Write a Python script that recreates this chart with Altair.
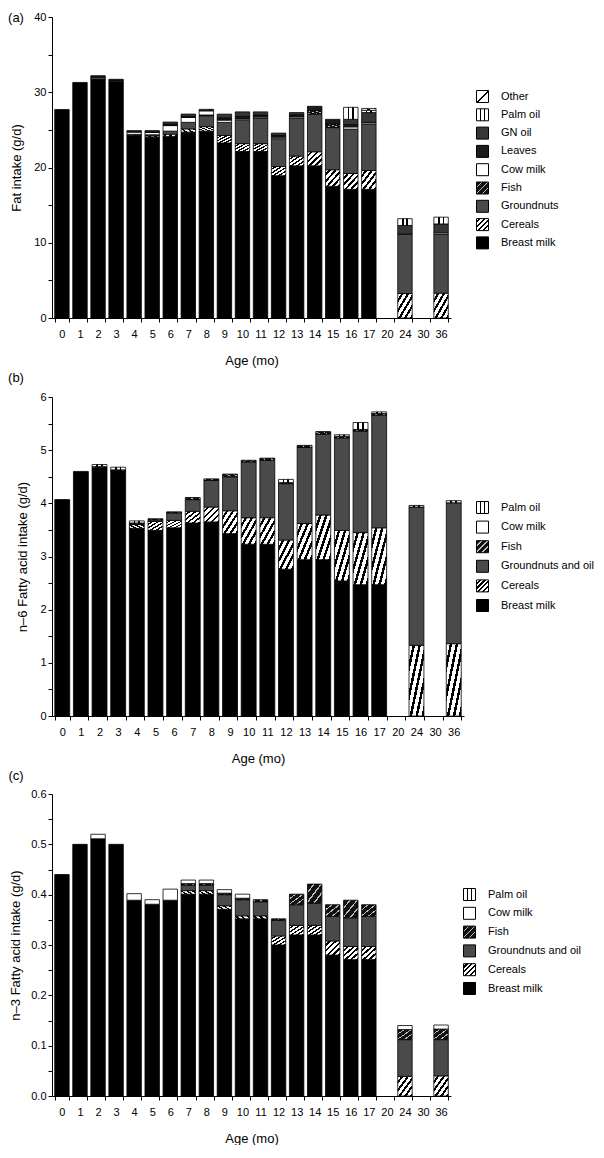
import altair as alt
import pandas as pd

AGES = ["0", "1", "2", "3", "4", "5", "6", "7", "8", "9", "10", "11", "12", "13",
        "14", "15", "16", "17", "20", "24", "30", "36"]

# ---- panel (a): fat intake (g/d), stacked bottom -> top
A_SERIES = ["Breast milk", "Cereals", "Groundnuts", "Fish", "Cow milk", "Leaves",
            "GN oil", "Palm oil", "Other"]
A_BREAST_MILK = [27.7, 31.3, 31.75, 31.45, 24.3, 24.0, 24.13, 24.7, 24.83, 23.26, 22.13,
                 22.13, 18.91, 20.22, 20.22, 17.5, 17.1, 17.1, 0, 0, 0, 0]
A_CEREALS = [0, 0, 0, 0, 0.1, 0.2, 0.3, 0.43, 0.6, 1.0, 1.04, 1.04, 1.22, 1.3, 1.87, 2.2,
             2.1, 2.5, 0, 3.25, 0, 3.3]
A_GROUNDNUTS = [0, 0, 0, 0, 0, 0.15, 0.4, 0.87, 1.45, 1.74, 3.18, 3.4, 3.7, 5.05, 5.0, 5.6,
                5.9, 6.2, 0, 7.9, 0, 7.8]
A_FISH = [0, 0, 0, 0, 0, 0, 0, 0, 0.1, 0, 0, 0, 0, 0, 0.5, 0.5, 0, 0, 0, 0, 0, 0]
A_COW_MILK = [0, 0, 0.15, 0.12, 0.3, 0.3, 0.74, 0.65, 0.55, 0.3, 0.17, 0.15, 0.2, 0.17, 0,
              0, 0.3, 0.2, 0, 0, 0, 0.2]
A_LEAVES = [0, 0, 0.3, 0.15, 0.2, 0.25, 0.2, 0.15, 0, 0.3, 0.27, 0.25, 0.24, 0.26, 0.54,
            0.6, 0.3, 0, 0, 0, 0, 0]
A_GN_OIL = [0, 0, 0, 0, 0, 0, 0.27, 0.3, 0.1, 0.49, 0.6, 0.42, 0.3, 0.3, 0, 0, 0.7, 1.3,
            0, 1.15, 0, 1.2]
A_PALM_OIL = [0, 0, 0, 0, 0, 0, 0, 0, 0, 0, 0, 0, 0, 0, 0, 0, 1.6, 0.3, 0, 0.9, 0, 0.9]
A_OTHER = [0, 0, 0, 0, 0, 0, 0, 0, 0.1, 0, 0, 0, 0, 0, 0, 0, 0, 0.25, 0, 0, 0, 0]

# ---- panels (b) and (c): n-6 and n-3 fatty acid intake (g/d)
BC_SERIES = ["Breast milk", "Cereals", "Groundnuts and oil", "Fish", "Cow milk", "Palm oil"]
B_BREAST_MILK = [4.07, 4.60, 4.67, 4.61, 3.53, 3.49, 3.54, 3.63, 3.65, 3.43, 3.23, 3.23,
                 2.76, 2.94, 2.94, 2.54, 2.47, 2.47, 0, 0, 0, 0]
B_CEREALS = [0, 0, 0, 0, 0.07, 0.17, 0.14, 0.22, 0.28, 0.43, 0.5, 0.5, 0.55, 0.68, 0.84,
             0.95, 0.98, 1.07, 0, 1.33, 0, 1.36]
B_GROUNDNUTS_OIL = [0, 0, 0, 0, 0.01, 0.03, 0.14, 0.22, 0.5, 0.64, 1.05, 1.08, 1.06, 1.43,
                    1.52, 1.74, 1.91, 2.12, 0, 2.6, 0, 2.65]
B_FISH = [0, 0, 0.02, 0.02, 0.02, 0.02, 0.02, 0.04, 0.03, 0.05, 0.03, 0.04, 0.02, 0.04,
          0.05, 0.03, 0.03, 0.03, 0, 0, 0, 0]
B_COW_MILK = [0] * 22
B_PALM_OIL = [0, 0, 0.04, 0.05, 0.04, 0, 0, 0, 0, 0, 0, 0, 0.06, 0, 0, 0.03, 0.13, 0.03,
              0, 0.03, 0, 0.04]

C_BREAST_MILK = [0.44, 0.50, 0.511, 0.50, 0.389, 0.381, 0.389, 0.401, 0.401, 0.371, 0.352,
                 0.352, 0.30, 0.32, 0.32, 0.28, 0.271, 0.271, 0, 0, 0, 0]
C_CEREALS = [0, 0, 0, 0, 0, 0, 0, 0.007, 0.007, 0.007, 0.006, 0.006, 0.018, 0.019, 0.019,
             0.028, 0.026, 0.026, 0, 0.039, 0, 0.04]
C_GROUNDNUTS_OIL = [0, 0, 0, 0, 0, 0, 0, 0.011, 0.011, 0.022, 0.032, 0.028, 0.031, 0.041,
                    0.044, 0.049, 0.057, 0.06, 0, 0.073, 0, 0.072]
C_FISH = [0, 0, 0, 0, 0, 0, 0, 0.003, 0.003, 0.003, 0.003, 0.004, 0.003, 0.021, 0.038,
          0.023, 0.035, 0.023, 0, 0.02, 0, 0.021]
C_COW_MILK = [0, 0, 0.009, 0, 0.013, 0.009, 0.022, 0.007, 0.007, 0.007, 0.008, 0, 0, 0, 0,
              0, 0, 0, 0, 0.008, 0, 0.008]
C_PALM_OIL = [0] * 22

FONT = "Liberation Sans"


def long_df(names, arrays):
    rows = []
    for idx, (name, arr) in enumerate(zip(names, arrays)):
        for age, v in zip(AGES, arr):
            rows.append({"age": age, "series": name, "idx": idx, "value": v})
    return pd.DataFrame(rows)


def grad(stops, x2=1, y2=1):
    s = ",".join("{offset:%.4f,color:'%s'}" % (o, c) for o, c in stops)
    return alt.ExprRef(expr="{gradient:'linear',x1:0,y1:0,x2:%s,y2:%s,stops:[%s]}" % (x2, y2, s))


def stripes(n, bg, fg, frac, x2=1, y2=1):
    stops = []
    for i in range(n):
        a = i / n
        b = a + (1 - frac) / n
        c = (i + 1) / n
        stops += [(a, bg), (b, bg), (b, fg), (c, fg)]
    return grad(stops, x2, y2)


HATCH_CEREALS = stripes(5, "#ffffff", "#000000", 0.42)
HATCH_FISH = stripes(4, "#111111", "#bdbdbd", 0.22)
HATCH_OTHER = grad([(0, "#ffffff"), (0.46, "#ffffff"), (0.46, "#000000"), (0.56, "#000000"),
                    (0.56, "#ffffff"), (1, "#ffffff")])
HATCH_PALM = grad([(0, "#ffffff"), (0.28, "#ffffff"), (0.28, "#000000"), (0.40, "#000000"),
                   (0.40, "#ffffff"), (0.60, "#ffffff"), (0.60, "#000000"), (0.72, "#000000"),
                   (0.72, "#ffffff"), (1, "#ffffff")], x2=1, y2=0)

FILL_A = {"Breast milk": "#000000", "Cereals": HATCH_CEREALS, "Groundnuts": "#4a4a4a",
          "Fish": HATCH_FISH, "Cow milk": "#ffffff", "Leaves": "#1c1c1c", "GN oil": "#363636",
          "Palm oil": HATCH_PALM, "Other": HATCH_OTHER}
FILL_BC = {"Breast milk": "#000000", "Cereals": HATCH_CEREALS, "Groundnuts and oil": "#4a4a4a",
           "Fish": HATCH_FISH, "Cow milk": "#ffffff", "Palm oil": HATCH_PALM}


def panel(df, names, fills, tag, tag_y, ytitle, ymax, yvals, label_expr, width, height,
          lx, ly, rowpad, titlepad):
    legend_order = names[::-1]
    bars = alt.Chart(df).transform_filter("datum.value > 0").mark_bar(
        stroke="black", strokeWidth=0.8
    ).encode(
        x=alt.X("age:O", scale=alt.Scale(domain=AGES, paddingInner=0.2, paddingOuter=0.15),
                axis=alt.Axis(title="Age (mo)", labelAngle=0, tickBand="extent",
                              labelOverlap=False, labelPadding=6, titlePadding=15)),
        y=alt.Y("value:Q", stack="zero", scale=alt.Scale(domain=[0, ymax], nice=False),
                axis=alt.Axis(title=ytitle, values=yvals, labelExpr=label_expr,
                              titlePadding=titlepad)),
        color=alt.Color("series:N",
                        scale=alt.Scale(domain=legend_order, range=[fills[n] for n in legend_order]),
                        legend=alt.Legend(title=None, orient="none", legendX=lx, legendY=ly,
                                          symbolType="square", symbolSize=144,
                                          symbolStrokeColor="black", symbolStrokeWidth=1,
                                          labelFontSize=11, labelFont=FONT, labelOffset=12,
                                          rowPadding=rowpad, labelColor="black")),
        order=alt.Order("idx:Q", sort="ascending"),
    )
    label = alt.Chart(pd.DataFrame({"tag": [tag]})).mark_text(
        fontSize=13, font=FONT, color="black", align="center", baseline="middle"
    ).encode(text="tag:N", x=alt.value(-36), y=alt.value(tag_y))
    return alt.layer(bars, label).properties(width=width, height=height)


df_a = long_df(A_SERIES, [A_BREAST_MILK, A_CEREALS, A_GROUNDNUTS, A_FISH, A_COW_MILK,
                          A_LEAVES, A_GN_OIL, A_PALM_OIL, A_OTHER])
df_b = long_df(BC_SERIES, [B_BREAST_MILK, B_CEREALS, B_GROUNDNUTS_OIL, B_FISH, B_COW_MILK,
                           B_PALM_OIL])
df_c = long_df(BC_SERIES, [C_BREAST_MILK, C_CEREALS, C_GROUNDNUTS_OIL, C_FISH, C_COW_MILK,
                           C_PALM_OIL])

pa = panel(df_a, A_SERIES, FILL_A, "(a)", 1, "Fat intake (g/d)", 40,
           [0, 5, 10, 15, 20, 25, 30, 35, 40],
           "datum.value % 10 === 0 ? datum.label : ''", 399, 301, 424, 73, 1.3, 10)
pb = panel(df_b, BC_SERIES, FILL_BC, "(b)", -19, "n–6 Fatty acid intake (g/d)", 6,
           [0, 0.5, 1, 1.5, 2, 2.5, 3, 3.5, 4, 4.5, 5, 5.5, 6],
           "datum.value % 1 === 0 ? format(datum.value, 'd') : ''", 412, 319, 424, 104, 2.6, 10)
pc = panel(df_c, BC_SERIES, FILL_BC, "(c)", -18, "n–3 Fatty acid intake (g/d)", 0.6,
           [0, 0.05, 0.1, 0.15, 0.2, 0.25, 0.3, 0.35, 0.4, 0.45, 0.5, 0.55, 0.6],
           "round(datum.value * 100) % 10 === 0 ? format(datum.value, '.1f') : ''",
           399, 302, 411, 94, 1.8, 8)

chart = alt.vconcat(pa, pb, pc, spacing=5).resolve_scale(
    color="independent", x="independent", y="independent"
).properties(
    padding={"left": 0, "top": 3, "right": 0, "bottom": 0}
).configure(font=FONT).configure_view(stroke=None).configure_axis(
    domainColor="black", tickColor="black", labelColor="black", titleColor="black",
    grid=False, labelFontSize=11, titleFontSize=13, titleFontWeight="normal",
    tickSize=4, labelFont=FONT, titleFont=FONT, domainWidth=1, tickWidth=1
)

chart.save("out.html", embed_options={"renderer": "svg", "actions": False})
